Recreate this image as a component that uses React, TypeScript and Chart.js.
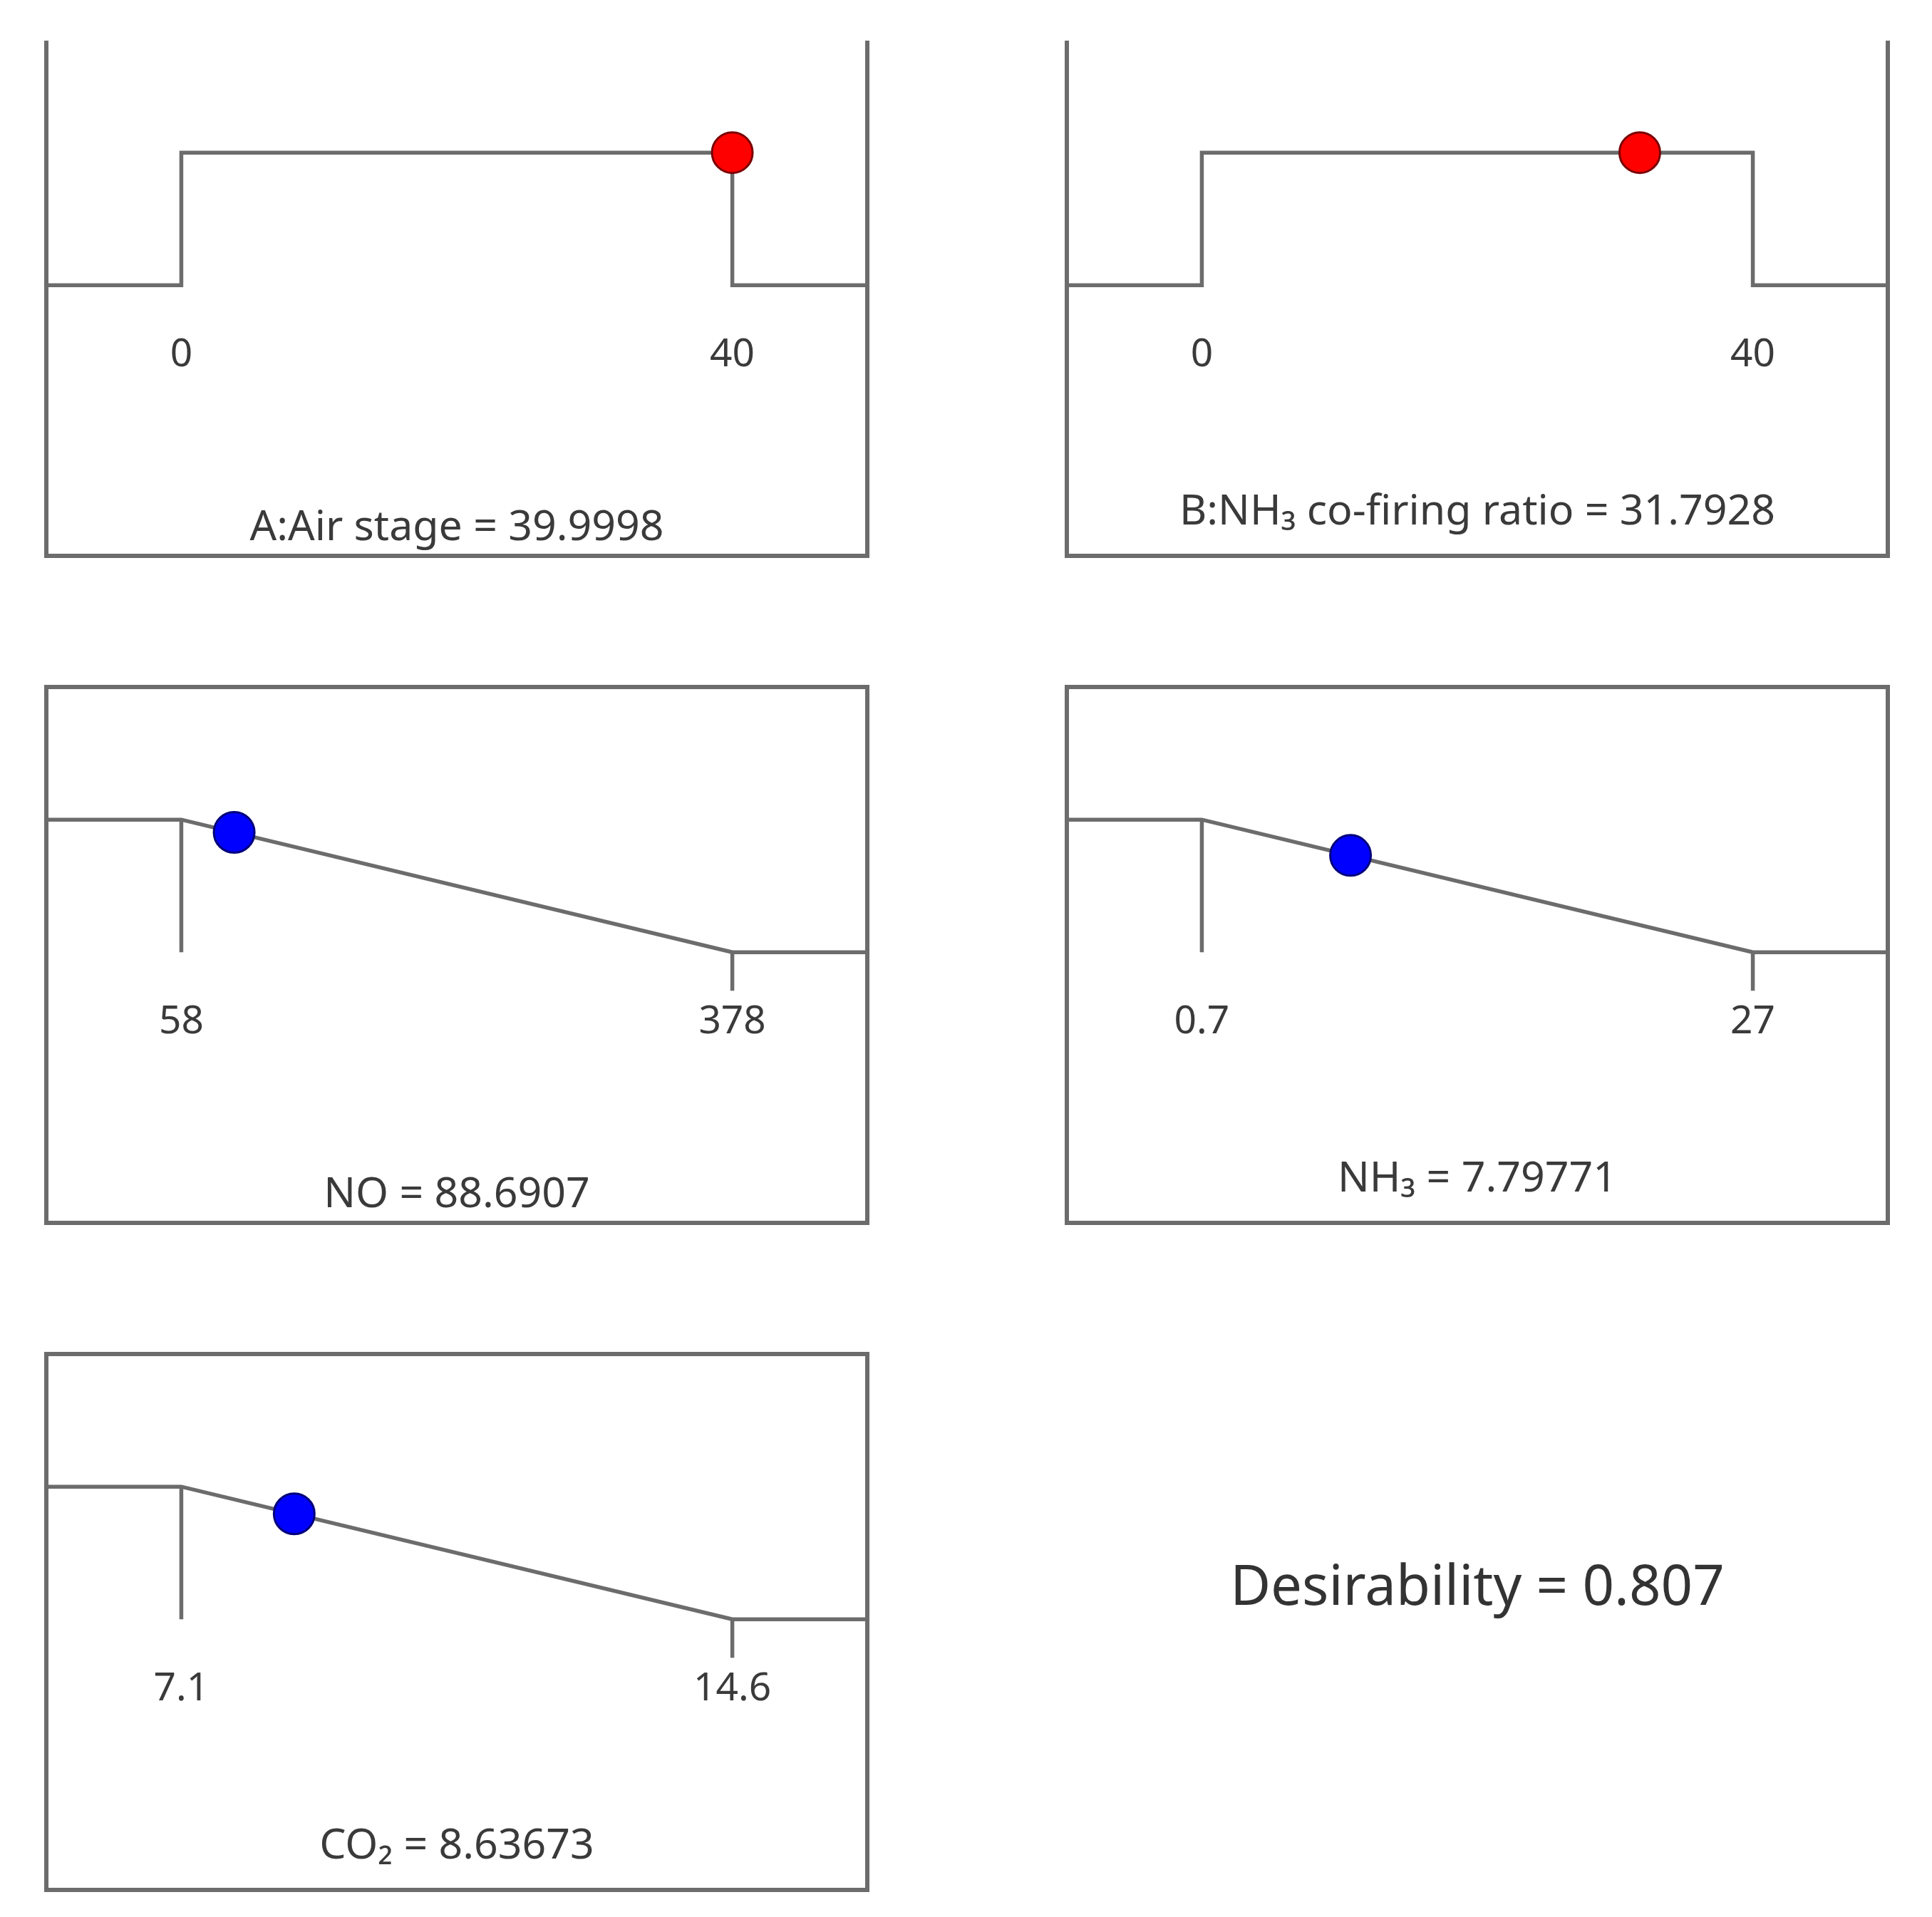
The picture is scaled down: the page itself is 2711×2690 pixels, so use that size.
import React, { useEffect, useRef } from "react";
import { Chart, registerables } from "chart.js";

Chart.register(...registerables);

// ---------------- data ----------------
const factorNames = ["A:Air stage", "B:NH₃ co-firing ratio"];
const factorLows = [0, 0];
const factorHighs = [40, 40];
const factorValues = [39.9998, 31.7928];

const responseNames = ["NO", "NH₃", "CO₂"];
const responseLows = [58, 0.7, 7.1];
const responseHighs = [378, 27, 14.6];
const responseValues = [88.6907, 7.79771, 8.63673];

const desirabilityValue = 0.807;

// ---------------- layout / style ----------------
const COL_X = [65, 1497];
const ROW_Y = [28, 964, 1900];
const BOX_W = 1152;
const BOX_H = 752;
const PAD = 3;
const CLIP_TOP = 57;
const Y_MIN = -2.04;
const Y_MAX = 2.0;
const X_MARGIN = 0.245;
const STEM = 0.29;
const FONT = "'Noto Sans', 'Open Sans', 'DejaVu Sans', sans-serif";
const LINE = "#6c6c6c";
const TEXT = "#3a3a3a";
const TICK_PAD = 11;
const TITLE_PAD = 164;
const SUB_RAISE = 22;

type Spec = {
  kind: "factor" | "response";
  name: string;
  low: number;
  high: number;
  value: number;
  row: number;
  col: number;
  fill: string;
  edge: string;
};

const specs: Spec[] = [
  ...factorNames.map((n, i) => ({
    kind: "factor" as const,
    name: n,
    low: factorLows[i],
    high: factorHighs[i],
    value: factorValues[i],
    row: 0,
    col: i,
    fill: "#ff0000",
    edge: "#7a0000",
  })),
  ...responseNames.map((n, i) => ({
    kind: "response" as const,
    name: n,
    low: responseLows[i],
    high: responseHighs[i],
    value: responseValues[i],
    row: 1 + Math.floor(i / 2),
    col: i % 2,
    fill: "#0000ff",
    edge: "#00007a",
  })),
];

const framePlugin = {
  id: "frame",
  afterDatasetsDraw(chart: any) {
    const { ctx, chartArea: a } = chart;
    ctx.save();
    ctx.strokeStyle = LINE;
    ctx.lineWidth = 6;
    ctx.strokeRect(a.left, a.top, a.right - a.left, a.bottom - a.top);
    ctx.restore();
  },
};

function buildConfig(p: Spec): any {
  const r = p.high - p.low;
  const xMin = p.low - X_MARGIN * r;
  const xMax = p.high + X_MARGIN * r;
  const curve =
    p.kind === "factor"
      ? [
          { x: xMin, y: 0 },
          { x: p.low, y: 0 },
          { x: p.low, y: 1 },
          { x: p.high, y: 1 },
          { x: p.high, y: 0 },
          { x: xMax, y: 0 },
        ]
      : [
          { x: xMin, y: 1 },
          { x: p.low, y: 1 },
          { x: p.high, y: 0 },
          { x: xMax, y: 0 },
        ];
  const d =
    p.kind === "factor"
      ? 1
      : Math.max(0, Math.min(1, (p.high - p.value) / r));
  const lineDs = (data: any[]) => ({
    data,
    showLine: true,
    borderColor: LINE,
    borderWidth: 5.5,
    pointRadius: 0,
    fill: false,
    borderJoinStyle: "miter",
    borderCapStyle: "butt",
  });
  const datasets: any[] = [
    {
      data: [{ x: p.value, y: d }],
      showLine: false,
      pointRadius: 28.5,
      pointBackgroundColor: p.fill,
      pointBorderColor: p.edge,
      pointBorderWidth: 3,
    },
    lineDs(curve),
  ];
  if (p.kind === "response") {
    datasets.push(lineDs([{ x: p.low, y: 1 }, { x: p.low, y: 0 }]));
    datasets.push(lineDs([{ x: p.high, y: 0 }, { x: p.high, y: -STEM }]));
  }
  const hasSub = /[₀-₉]/.test(p.name);
  return {
    type: "scatter",
    data: { datasets },
    plugins: [framePlugin],
    options: {
      animation: false,
      responsive: false,
      devicePixelRatio: 1,
      events: [],
      layout: { padding: PAD, autoPadding: false },
      plugins: {
        legend: { display: false },
        tooltip: { enabled: false },
        title: { display: false },
      },
      scales: {
        x: {
          type: "linear",
          min: xMin,
          max: xMax,
          position: { y: -STEM },
          afterBuildTicks: (s: any) => {
            s.ticks = [{ value: p.low }, { value: p.high }];
          },
          grid: { display: false, drawTicks: false },
          border: { display: false },
          ticks: {
            autoSkip: false,
            maxRotation: 0,
            minRotation: 0,
            padding: TICK_PAD,
            color: TEXT,
            font: { family: FONT, size: 55 },
            callback: (v: any) => String(v),
          },
          title: {
            display: true,
            text: `${p.name} = ${p.value}`,
            color: TEXT,
            font: { family: FONT, size: 59 },
            padding: { top: TITLE_PAD - (hasSub ? SUB_RAISE : 0), bottom: 0 },
          },
        },
        y: { type: "linear", min: Y_MIN, max: Y_MAX, display: false },
      },
    },
  };
}

function Panel({ spec }: { spec: Spec }) {
  const ref = useRef<HTMLCanvasElement>(null);
  useEffect(() => {
    const chart = new Chart(ref.current as HTMLCanvasElement, buildConfig(spec));
    return () => chart.destroy();
  }, [spec]);
  const x0 = COL_X[spec.col];
  const y0 = ROW_Y[spec.row];
  const canvasTop = y0 - PAD;
  const wrapTop = Math.max(CLIP_TOP, canvasTop);
  const cw = BOX_W + 2 * PAD;
  const ch = BOX_H + 2 * PAD;
  return (
    <div
      style={{
        position: "absolute",
        left: x0 - PAD,
        top: wrapTop,
        width: cw,
        height: canvasTop + ch - wrapTop,
        overflow: "hidden",
      }}
    >
      <canvas
        ref={ref}
        width={cw}
        height={ch}
        style={{
          position: "absolute",
          left: 0,
          top: canvasTop - wrapTop,
          width: cw,
          height: ch,
          display: "block",
        }}
      />
    </div>
  );
}

export default function App() {
  return (
    <div
      style={{
        position: "absolute",
        left: 0,
        top: 0,
        width: 2711,
        height: 2690,
        background: "#ffffff",
        overflow: "hidden",
      }}
    >
      {specs.map((s, i) => (
        <Panel key={i} spec={s} />
      ))}
      <div
        style={{
          position: "absolute",
          left: COL_X[1] + BOX_W / 2,
          top: 2222,
          transform: "translate(-50%, -50%)",
          fontFamily: FONT,
          fontSize: 78,
          lineHeight: 1,
          color: "#333333",
          whiteSpace: "nowrap",
        }}
      >
        {`Desirability = ${desirabilityValue}`}
      </div>
    </div>
  );
}
